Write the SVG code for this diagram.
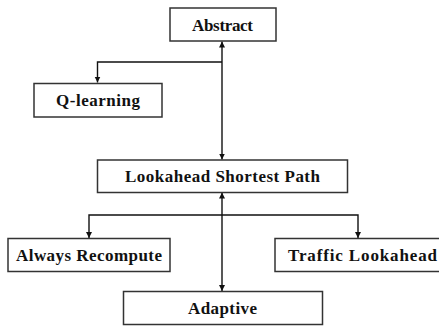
<svg xmlns="http://www.w3.org/2000/svg" width="439" height="327" viewBox="0 0 439 327">
  <style>
    .box { fill: #ffffff; stroke: #333333; stroke-width: 1.5; }
    .label { font-family: "Liberation Serif", "Times New Roman", serif; font-weight: bold; font-size: 17px; fill: #111111; text-anchor: middle; }
    .conn { fill: none; stroke: #111111; stroke-width: 1.4; }
  </style>
  <defs>
    <marker id="arrow" viewBox="0 0 10 10" refX="10" refY="5" markerWidth="6" markerHeight="7" markerUnits="userSpaceOnUse" orient="auto-start-reverse">
      <path d="M0,0 L10,5 L0,10 z" fill="#111111"/>
    </marker>
  </defs>
  <rect width="439" height="327" fill="#ffffff"/>

  <g id="connectors">
    <!-- Abstract <-> Lookahead Shortest Path -->
    <path class="conn" d="M222,41.5 L222,159.5" marker-start="url(#arrow)" marker-end="url(#arrow)"/>
    <!-- branch to Q-learning -->
    <path class="conn" d="M222,62 L97.5,62 L97.5,82.5" marker-end="url(#arrow)"/>
    <!-- Lookahead Shortest Path <-> Adaptive -->
    <path class="conn" d="M222,192.5 L222,291" marker-start="url(#arrow)" marker-end="url(#arrow)"/>
    <!-- branches to Always Recompute and Traffic Lookahead -->
    <path class="conn" d="M222,215 L89,215 L89,238" marker-end="url(#arrow)"/>
    <path class="conn" d="M222,215 L358,215 L358,238" marker-end="url(#arrow)"/>
  </g>

  <g id="abstract">
    <rect class="box" x="170" y="8" width="106" height="33"/>
    <text class="label" x="222.5" y="30.5" textLength="61" lengthAdjust="spacing">Abstract</text>
  </g>
  <g id="q-learning">
    <rect class="box" x="34" y="83.5" width="128" height="33.5"/>
    <text class="label" x="98" y="106" textLength="84" lengthAdjust="spacing">Q-learning</text>
  </g>
  <g id="lookahead-shortest-path">
    <rect class="box" x="97.5" y="160" width="250" height="32.5"/>
    <text class="label" x="222.5" y="182" textLength="195" lengthAdjust="spacing">Lookahead Shortest Path</text>
  </g>
  <g id="always-recompute">
    <rect class="box" x="8" y="238.5" width="162" height="33"/>
    <text class="label" x="89" y="260.5" textLength="146" lengthAdjust="spacing">Always Recompute</text>
  </g>
  <g id="traffic-lookahead">
    <rect class="box" x="275" y="238.5" width="174" height="33"/>
    <text class="label" x="362.5" y="260.5" textLength="149" lengthAdjust="spacing">Traffic Lookahead</text>
  </g>
  <g id="adaptive">
    <rect class="box" x="123.5" y="291.5" width="199" height="33"/>
    <text class="label" x="222.5" y="314" textLength="69" lengthAdjust="spacing">Adaptive</text>
  </g>
</svg>
